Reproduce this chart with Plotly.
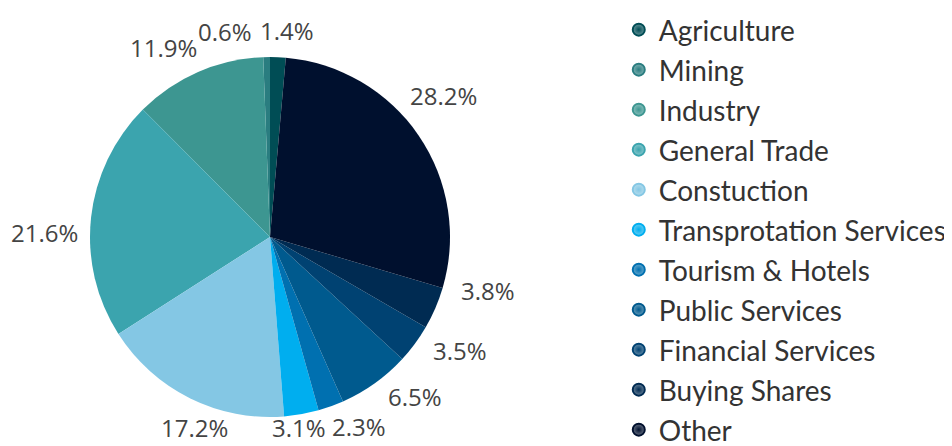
import math
import plotly.graph_objects as go

sectors = ["Agriculture", "Mining", "Industry", "General Trade", "Constuction",
           "Transprotation Services", "Tourism & Hotels", "Public Services",
           "Financial Services", "Buying Shares", "Other"]
shares = [1.4, 0.6, 11.9, 21.6, 17.2, 3.1, 2.3, 6.5, 3.5, 3.8, 28.2]
colors = ["#004d55", "#2a7d80", "#3d9691", "#3ba4ae", "#84c7e4", "#00aeef",
          "#0070b0", "#005a8e", "#004272", "#002b52", "#00102e"]

# the page body has an 8px margin, so the figure is sized/positioned to compensate
W, H = 944, 438
CX, CY, R = 262, 229, 180  # pie centre / radius in figure px

def tint(hexcol, f):
    r, g, b = (int(hexcol[i:i + 2], 16) for i in (1, 3, 5))
    return "#%02x%02x%02x" % tuple(int(c + (255 - c) * f) for c in (r, g, b))

fig = go.Figure()
fig.add_trace(go.Pie(
    labels=sectors, values=shares, sort=False, direction="counterclockwise",
    rotation=0, marker=dict(colors=colors, line=dict(width=0)),
    textinfo="none", showlegend=False, hoverinfo="label+value",
    domain=dict(x=[(CX - R) / W, (CX + R) / W], y=[1 - (CY + R) / H, 1 - (CY - R) / H]),
))

# label angles (degrees, counter-clockwise from 12 o'clock) from the data
total = sum(shares)
angles, cum = [], 0.0
for v in shares:
    angles.append((cum + v / 2) / total * 360)
    cum += v
# spread labels of neighbouring tiny slices apart
MIN_SEP = 17.0
for _ in range(50):
    for i in range(len(angles) - 1):
        d = angles[i + 1] - angles[i]
        if d < MIN_SEP:
            push = (MIN_SEP - d) / 2
            angles[i] -= push
            angles[i + 1] += push

for v, a in zip(shares, angles):
    t = math.radians(a)
    dist = 197 + 28 * abs(math.sin(t)) + 8 * max(math.cos(t), 0)
    px = CX - dist * math.sin(t)
    py = min(CY - dist * math.cos(t), H - 19)
    fig.add_annotation(x=px / W, y=1 - py / H, xref="paper", yref="paper",
                       text=f"{v}%", showarrow=False, xanchor="center", yanchor="middle",
                       font=dict(family="Open Sans", size=24, color="#444444"))

for name, col in zip(sectors, colors):
    fig.add_trace(go.Scatter(
        x=[None], y=[None], mode="markers", name=name, legendgroup=name,
        marker=dict(symbol="circle", size=16, color=tint(col, 0.4),
                    gradient=dict(type="radial", color=col),
                    line=dict(width=4, color=col)),
    ))

fig.update_layout(
    width=W, height=H, margin=dict(l=0, r=0, t=0, b=0, autoexpand=False),
    paper_bgcolor="white", plot_bgcolor="white",
    xaxis=dict(visible=False), yaxis=dict(visible=False),
    legend=dict(x=0.647, y=1.007, xanchor="left", yanchor="top",
                font=dict(family="Lato", size=28, color="#333333"),
                tracegroupgap=0.6, itemsizing="constant", maxheight=470,
                bgcolor="rgba(0,0,0,0)"),
)
fig.write_html("out.html")
